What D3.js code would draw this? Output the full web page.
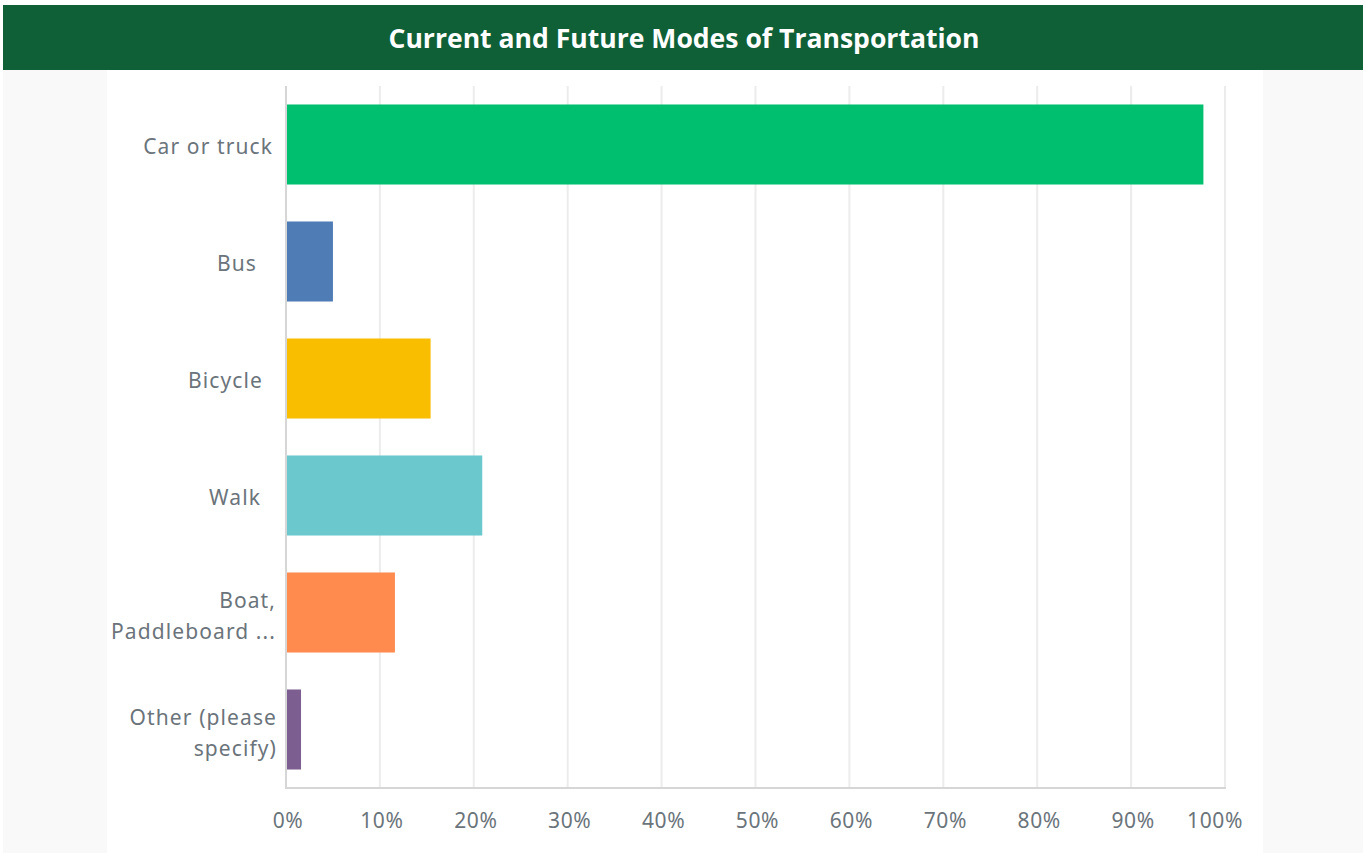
<!DOCTYPE html>
<html>
<head>
<meta charset="utf-8">
<script src="https://cdnjs.cloudflare.com/ajax/libs/d3/7.8.5/d3.min.js"></script>
<style>
  html, body { margin: 0; padding: 0; background: #ffffff; }
  svg { display: block; }
</style>
</head>
<body>
<svg id="chart" width="1366" height="853"></svg>
<script>
"use strict";

// chart data
var title = "Current and Future Modes of Transportation";
var categories = ["Car or truck", "Bus", "Bicycle", "Walk", "Boat, Paddleboard ...", "Other (please specify)"];
var labelLines = [["Car or truck"], ["Bus"], ["Bicycle"], ["Walk"], ["Boat,", "Paddleboard ..."], ["Other (please", "specify)"]];
var labelGap = [4, 20, 14, 16, 1, 0];   // trailing blank in the original labels
var percents = [97.7, 5.0, 15.4, 20.9, 11.6, 1.6];
var barColors = ["#00bf6f", "#507cb6", "#f9be00", "#6bc8cd", "#ff8b4f", "#7d5e90"];
var tickValues = [0, 10, 20, 30, 40, 50, 60, 70, 80, 90, 100];

var svg = d3.select("#chart");

// page frame: gray side panels and green title band
svg.append("rect").attr("x", 3).attr("y", 70).attr("width", 1360).attr("height", 783).attr("fill", "#f9f9f9");
svg.append("rect").attr("x", 107).attr("y", 70).attr("width", 1156).attr("height", 783).attr("fill", "#ffffff");
svg.append("rect").attr("x", 3).attr("y", 5).attr("width", 1360).attr("height", 65).attr("fill", "#0f5f37");
svg.append("text")
  .attr("x", 684).attr("y", 48)
  .attr("text-anchor", "middle")
  .attr("fill", "#ffffff")
  .attr("textLength", 591)
  .attr("lengthAdjust", "spacingAndGlyphs")
  .style("font-family", "'Open Sans', sans-serif")
  .style("font-weight", "700")
  .style("font-size", "26px")
  .text(title);

var x = d3.scaleLinear().domain([0, 100]).range([286, 1225]);
var y = d3.scaleBand().domain(categories).range([86, 788]).paddingInner(0.316).paddingOuter(0.158);

var textColor = "#6b747b";
var font = "'Noto Sans', sans-serif";

// vertical gridlines
svg.append("g").selectAll("line")
  .data(tickValues.slice(1))
  .enter().append("line")
    .attr("x1", function(d) { return x(d); })
    .attr("x2", function(d) { return x(d); })
    .attr("y1", 86).attr("y2", 788)
    .attr("stroke", "#ececec")
    .attr("stroke-width", 2);

// bars
svg.append("g").selectAll("rect")
  .data(percents)
  .enter().append("rect")
    .attr("x", x(0))
    .attr("y", function(d, i) { return y(categories[i]); })
    .attr("width", function(d) { return x(d) - x(0); })
    .attr("height", y.bandwidth())
    .attr("fill", function(d, i) { return barColors[i]; });

// axis lines
svg.append("line").attr("x1", x(0)).attr("x2", x(0)).attr("y1", 86).attr("y2", 789)
  .attr("stroke", "#d6d6d6").attr("stroke-width", 2);
svg.append("line").attr("x1", x(0) - 1).attr("x2", x(100) + 1).attr("y1", 788).attr("y2", 788)
  .attr("stroke", "#d6d6d6").attr("stroke-width", 2);

// x tick labels; the last one is pulled in so it stays inside the panel
var ticks = svg.append("g").selectAll("text")
  .data(tickValues)
  .enter().append("text")
    .attr("y", 828)
    .attr("text-anchor", "middle")
    .attr("fill", textColor)
    .style("font-family", font)
    .style("font-size", "21px")
    .style("letter-spacing", "0.6px")
    .text(function(d) { return d + "%"; });

ticks.attr("x", function(d) {
  var w = this.getComputedTextLength();
  return Math.min(x(d) + 2, 1243 - w / 2);
});

// category labels, one or two lines
var labels = svg.append("g").selectAll("text")
  .data(categories)
  .enter().append("text")
    .attr("text-anchor", "end")
    .attr("fill", textColor)
    .style("font-family", font)
    .style("font-size", "21px")
    .style("letter-spacing", "1.1px");

labels.each(function(d, i) {
  var lines = labelLines[i];
  var mid = y(d) + y.bandwidth() / 2;
  var first = lines.length === 1 ? mid + 9 : mid - 5;
  d3.select(this).selectAll("tspan")
    .data(lines)
    .enter().append("tspan")
      .attr("x", 277 - labelGap[i])
      .attr("y", function(l, j) { return first + j * 31; })
      .text(function(l) { return l; });
});
</script>
</body>
</html>
